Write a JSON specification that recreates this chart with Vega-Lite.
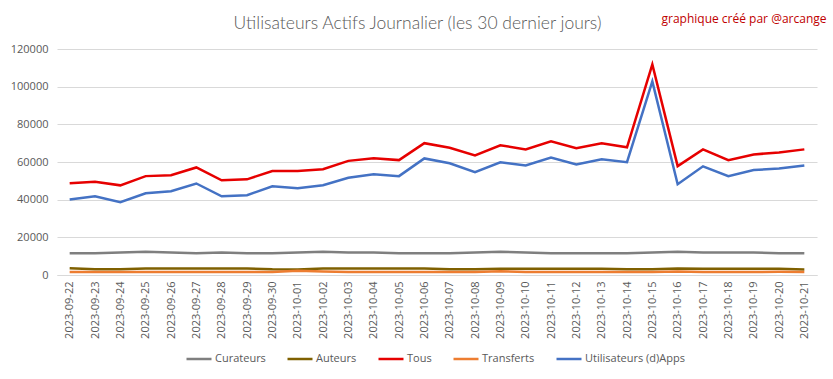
{
  "$schema": "https://vega.github.io/schema/vega-lite/v6.json",
  "autosize": {"type": "none"},
  "padding": {"left": 57, "top": 49, "right": 16, "bottom": 104},
  "width": 760,
  "height": 226,
  "background": "white",
  "config": {
    "view": {"stroke": null},
    "font": "Open Sans"
  },
  "datasets": {
    "main": [
      {"date":"2023-09-22","Curateurs":11500,"Auteurs":3600,"Tous":48700,"Transferts":1600,"Utilisateurs (d)Apps":40100},
      {"date":"2023-09-23","Curateurs":11500,"Auteurs":3100,"Tous":49500,"Transferts":1600,"Utilisateurs (d)Apps":41800},
      {"date":"2023-09-24","Curateurs":11900,"Auteurs":3100,"Tous":47600,"Transferts":1600,"Utilisateurs (d)Apps":38700},
      {"date":"2023-09-25","Curateurs":12300,"Auteurs":3400,"Tous":52500,"Transferts":1600,"Utilisateurs (d)Apps":43400},
      {"date":"2023-09-26","Curateurs":12000,"Auteurs":3400,"Tous":53000,"Transferts":1600,"Utilisateurs (d)Apps":44500},
      {"date":"2023-09-27","Curateurs":11600,"Auteurs":3400,"Tous":57100,"Transferts":1600,"Utilisateurs (d)Apps":48600},
      {"date":"2023-09-28","Curateurs":11900,"Auteurs":3400,"Tous":50300,"Transferts":1600,"Utilisateurs (d)Apps":41800},
      {"date":"2023-09-29","Curateurs":11600,"Auteurs":3500,"Tous":50800,"Transferts":1600,"Utilisateurs (d)Apps":42400},
      {"date":"2023-09-30","Curateurs":11600,"Auteurs":3000,"Tous":55200,"Transferts":1600,"Utilisateurs (d)Apps":47100},
      {"date":"2023-10-01","Curateurs":11900,"Auteurs":2900,"Tous":55200,"Transferts":2200,"Utilisateurs (d)Apps":46100},
      {"date":"2023-10-02","Curateurs":12300,"Auteurs":3400,"Tous":56200,"Transferts":1800,"Utilisateurs (d)Apps":47700},
      {"date":"2023-10-03","Curateurs":12000,"Auteurs":3400,"Tous":60600,"Transferts":1600,"Utilisateurs (d)Apps":51600},
      {"date":"2023-10-04","Curateurs":11900,"Auteurs":3400,"Tous":62000,"Transferts":1600,"Utilisateurs (d)Apps":53500},
      {"date":"2023-10-05","Curateurs":11500,"Auteurs":3400,"Tous":61000,"Transferts":1600,"Utilisateurs (d)Apps":52500},
      {"date":"2023-10-06","Curateurs":11500,"Auteurs":3400,"Tous":70000,"Transferts":1600,"Utilisateurs (d)Apps":61900},
      {"date":"2023-10-07","Curateurs":11500,"Auteurs":3100,"Tous":67600,"Transferts":1600,"Utilisateurs (d)Apps":59300},
      {"date":"2023-10-08","Curateurs":11900,"Auteurs":3100,"Tous":63500,"Transferts":1600,"Utilisateurs (d)Apps":54600},
      {"date":"2023-10-09","Curateurs":12300,"Auteurs":3300,"Tous":68900,"Transferts":2000,"Utilisateurs (d)Apps":59800},
      {"date":"2023-10-10","Curateurs":12000,"Auteurs":3300,"Tous":66700,"Transferts":1600,"Utilisateurs (d)Apps":58200},
      {"date":"2023-10-11","Curateurs":11600,"Auteurs":3300,"Tous":71000,"Transferts":1600,"Utilisateurs (d)Apps":62400},
      {"date":"2023-10-12","Curateurs":11600,"Auteurs":3300,"Tous":67300,"Transferts":1600,"Utilisateurs (d)Apps":58700},
      {"date":"2023-10-13","Curateurs":11600,"Auteurs":3300,"Tous":69900,"Transferts":1600,"Utilisateurs (d)Apps":61400},
      {"date":"2023-10-14","Curateurs":11600,"Auteurs":3000,"Tous":67800,"Transferts":1600,"Utilisateurs (d)Apps":59900},
      {"date":"2023-10-15","Curateurs":12000,"Auteurs":3000,"Tous":111800,"Transferts":1600,"Utilisateurs (d)Apps":102800},
      {"date":"2023-10-16","Curateurs":12400,"Auteurs":3400,"Tous":57800,"Transferts":1900,"Utilisateurs (d)Apps":48200},
      {"date":"2023-10-17","Curateurs":12000,"Auteurs":3300,"Tous":66700,"Transferts":1600,"Utilisateurs (d)Apps":57700},
      {"date":"2023-10-18","Curateurs":12000,"Auteurs":3300,"Tous":61000,"Transferts":1600,"Utilisateurs (d)Apps":52500},
      {"date":"2023-10-19","Curateurs":12000,"Auteurs":3300,"Tous":64000,"Transferts":1600,"Utilisateurs (d)Apps":55700},
      {"date":"2023-10-20","Curateurs":11600,"Auteurs":3300,"Tous":65100,"Transferts":1700,"Utilisateurs (d)Apps":56600},
      {"date":"2023-10-21","Curateurs":11500,"Auteurs":2900,"Tous":66700,"Transferts":1600,"Utilisateurs (d)Apps":58200}
    ]
  },
  "data": {"name": "main"},
  "transform": [
    {"fold": ["Curateurs", "Auteurs", "Tous", "Transferts", "Utilisateurs (d)Apps"], "as": ["serie", "valeur"]}
  ],
  "encoding": {
    "x": {
      "field": "date",
      "type": "ordinal",
      "scale": {"type": "point", "padding": 0.5},
      "axis": {
        "title": null,
        "labelAngle": -90,
        "labelAlign": "right",
        "labelBaseline": "middle",
        "labelFontSize": 11,
        "labelColor": "#595959",
        "labelPadding": 6,
        "ticks": false,
        "domain": true,
        "domainColor": "#D9D9D9",
        "grid": false
      }
    },
    "color": {
      "field": "serie",
      "type": "nominal",
      "scale": {
        "domain": ["Curateurs", "Auteurs", "Tous", "Transferts", "Utilisateurs (d)Apps"],
        "range": ["#7F7F7F", "#7F6000", "#E60000", "#ED7D31", "#4472C4"]
      },
      "legend": {
        "title": null,
        "orient": "none",
        "direction": "horizontal",
        "legendX": 128,
        "legendY": 296,
        "symbolType": "stroke",
        "symbolSize": 625,
        "symbolStrokeWidth": 2.5,
        "labelFontSize": 11,
        "labelColor": "#595959",
        "labelOffset": 2,
        "columnPadding": 16
      }
    }
  },
  "layer": [
    {
      "transform": [{"filter": "datum.serie != 'Tous' && datum.serie != 'Utilisateurs (d)Apps'"}],
      "mark": {"type": "line", "strokeWidth": 2.5},
      "encoding": {
        "y": {
          "field": "valeur",
          "type": "quantitative",
          "scale": {"domain": [0, 120000], "nice": false},
          "axis": {
            "title": "Utilisateurs Actifs Journalier (les 30 dernier jours)",
            "titleAngle": 0,
            "titleAlign": "center",
            "titleBaseline": "alphabetic",
            "titleX": 360,
            "titleY": -21,
            "titleFont": "Lato",
            "titleFontSize": 17.5,
            "titleFontWeight": 300,
            "titleColor": "#595959",
            "values": [0, 20000, 40000, 60000, 80000, 100000, 120000],
            "format": "d",
            "labelFontSize": 11,
            "labelColor": "#595959",
            "labelPadding": 9,
            "ticks": false,
            "domain": false,
            "gridColor": "#D9D9D9",
            "gridWidth": 1
          }
        }
      }
    },
    {
      "transform": [{"filter": "datum.serie == 'Tous' || datum.serie == 'Utilisateurs (d)Apps'"}],
      "mark": {"type": "line", "strokeWidth": 2.5},
      "encoding": {
        "y": {
          "field": "valeur",
          "type": "quantitative",
          "axis": {
            "orient": "right",
            "title": "graphique créé par @arcange",
            "titleAngle": 0,
            "titleAlign": "right",
            "titleBaseline": "alphabetic",
            "titleX": 9,
            "titleY": -27,
            "titleFontSize": 12,
            "titleFontWeight": "normal",
            "titleColor": "#C00000",
            "labels": false,
            "ticks": false,
            "domain": false,
            "grid": false
          }
        }
      }
    }
  ],
  "resolve": {"scale": {"y": "shared"}, "axis": {"y": "independent"}}
}
